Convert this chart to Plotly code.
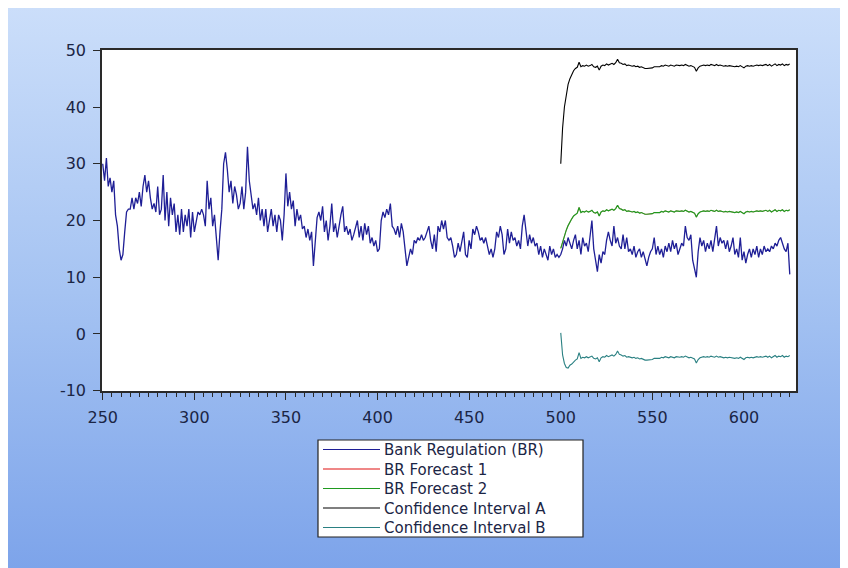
import base64
import plotly.graph_objects as go

# ---------------- data ----------------
periods = list(range(250, 626))
forecast_periods = list(range(500, 626))

bank_regulation = [
    30, 27, 31, 26, 27.5, 25, 27, 21, 19, 15,
    13, 14, 18, 21.5, 22, 22, 24, 22, 24, 23,
    25, 22.5, 26, 28, 25, 27, 24, 22, 23, 21.5,
    26, 21, 22, 28, 20, 25, 19, 24, 21, 23,
    18, 21, 17.5, 22, 18, 21, 19, 22, 17, 21.5,
    18, 20, 21.5, 21, 22, 21, 19, 27, 22, 24,
    19, 21, 16, 13, 18, 22, 30, 32, 29, 25,
    27, 23, 26, 24.5, 22, 23, 26, 22, 25, 33,
    27, 24, 22, 23, 21, 24, 20, 22, 19, 22,
    18, 20, 22, 19, 21, 18, 21, 20, 16.5, 21,
    28.3, 22.5, 25, 22, 23.5, 19, 22, 20, 21, 18.5,
    19, 17, 18.5, 16.5, 18, 12, 16, 20.5, 21.5, 20,
    22.5, 18, 20, 16.5, 19, 23, 18, 19.5, 17, 19.5,
    21, 22.5, 18, 19, 17.5, 18.5, 16.5, 17.5, 19, 20,
    17, 19, 16.5, 19.5, 17.5, 19, 16, 17, 15.5, 16.5,
    14.5, 15, 20, 21.5, 20.5, 22, 21, 23, 19, 18.5,
    17.5, 19, 17, 19.5, 18, 15, 12, 13.5, 15, 14,
    16.5, 16, 17, 16.5, 17.5, 16.5, 17, 18, 19, 16.5,
    15, 17.5, 14.5, 19, 18, 20, 18.5, 20, 17, 16.5,
    17, 15.5, 13.5, 14, 16, 14.5, 16, 18, 14, 13.5,
    16.5, 15, 18.5, 17.5, 19, 18, 16.5, 17, 16, 17,
    15.5, 14, 15, 13.5, 15, 18, 17, 19, 17.5, 14,
    15, 18.5, 16, 18, 16.5, 17, 15.5, 16.5, 15, 19,
    21, 18, 15.5, 17.5, 16, 17, 15.5, 16, 14, 15.5,
    13.5, 15, 14, 13, 15.5, 14, 15, 13.5, 14, 13.5,
    14, 15, 16.5, 15.5, 17, 16, 15, 16.5, 17.5, 15,
    16.5, 14, 17, 15.5, 16, 14.5, 17, 20, 15, 13,
    11, 14, 12.5, 14.5, 14, 16.5, 18, 16.5, 15.5, 19,
    16, 17, 15.5, 15, 17.5, 15, 17, 14.5, 15, 14,
    15.5, 13.5, 14.5, 15, 13.5, 14.5, 13, 12, 13.5, 14.5,
    15, 17, 14, 15.5, 14, 15, 13.5, 15.5, 14.5, 16,
    14.5, 16.5, 15, 16, 14, 15, 16, 15.5, 19, 17,
    16.5, 17.5, 13, 11.5, 10, 14.5, 17, 15.5, 16.5, 14.5,
    16, 15, 16.5, 14.5, 17, 19, 15.5, 17, 16, 16.5,
    15, 16.5, 14.5, 15.5, 17, 14, 15, 13.5, 17, 13,
    14.5, 12.5, 14, 15, 13.5, 15, 14, 15.5, 13.5, 15,
    14, 15.5, 14.5, 15, 14.5, 15.5, 15, 16, 15.5, 16.5,
    17, 16, 15, 14.5, 16, 10.5,
]

br_forecast_2 = [
    15.1, 16.3, 17.4, 18.3, 19.1, 19.8, 20.3, 20.8, 21.1, 21.3,
    22.3, 21.4, 21.6, 21.5, 21.7, 21.5, 21.6, 21.8, 21.4, 21.3,
    21.5, 20.8, 21.5, 21.7, 21.6, 21.9, 21.7, 21.8, 22.0, 21.8,
    22.1, 22.7, 22.1, 22.0, 21.8, 21.9, 21.6, 21.7, 21.6, 21.5,
    21.6, 21.4, 21.5, 21.3, 21.4, 21.2, 21.1, 21.1, 21.1, 21.2,
    21.2, 21.4, 21.4, 21.5, 21.4, 21.6, 21.5, 21.7, 21.6, 21.5,
    21.7, 21.6, 21.5, 21.7, 21.6, 21.6, 21.7, 21.6, 21.8, 21.6,
    21.5, 21.6, 21.4, 21.3, 20.6, 21.2, 21.5, 21.6, 21.7, 21.6,
    21.7, 21.6, 21.8, 21.7, 21.6, 21.8, 21.6, 21.7, 21.6, 21.5,
    21.6, 21.5, 21.6, 21.5, 21.5, 21.4, 21.5, 21.4, 21.6, 21.4,
    21.2, 21.5, 21.6, 21.5, 21.6, 21.5, 21.6, 21.7, 21.6, 21.7,
    21.6, 21.7, 21.8, 21.6, 21.8, 21.5, 21.7, 21.9, 21.6, 21.8,
    21.7, 21.9, 21.6, 21.8, 21.7, 21.9,
]

# static forecast lies underneath the dynamic one (not visible in the chart)
br_forecast_1 = [
    15.1, 16.3, 17.4, 18.3, 19.1, 19.8, 20.3, 20.8, 21.1, 21.3,
    22.3, 21.4, 21.6, 21.5, 21.7, 21.5, 21.6, 21.8, 21.4, 21.3,
    21.5, 20.8, 21.5, 21.7, 21.6, 21.9, 21.7, 21.8, 22.0, 21.8,
    22.1, 22.7, 22.1, 22.0, 21.8, 21.9, 21.6, 21.7, 21.6, 21.5,
    21.6, 21.4, 21.5, 21.3, 21.4, 21.2, 21.1, 21.1, 21.1, 21.2,
    21.2, 21.4, 21.4, 21.5, 21.4, 21.6, 21.5, 21.7, 21.6, 21.5,
    21.7, 21.6, 21.5, 21.7, 21.6, 21.6, 21.7, 21.6, 21.8, 21.6,
    21.5, 21.6, 21.4, 21.3, 20.6, 21.2, 21.5, 21.6, 21.7, 21.6,
    21.7, 21.6, 21.8, 21.7, 21.6, 21.8, 21.6, 21.7, 21.6, 21.5,
    21.6, 21.5, 21.6, 21.5, 21.5, 21.4, 21.5, 21.4, 21.6, 21.4,
    21.2, 21.5, 21.6, 21.5, 21.6, 21.5, 21.6, 21.7, 21.6, 21.7,
    21.6, 21.7, 21.8, 21.6, 21.8, 21.5, 21.7, 21.9, 21.6, 21.8,
    21.7, 21.9, 21.6, 21.8, 21.7, 21.9,
]

confidence_a = [
    30.0, 36.3, 40.0, 42.5, 44.0, 45.0, 45.8, 46.4, 46.8, 47.0,
    47.9, 47.1, 47.3, 47.2, 47.4, 47.2, 47.3, 47.5, 47.1, 47.0,
    47.2, 46.5, 47.2, 47.4, 47.3, 47.6, 47.4, 47.5, 47.7, 47.5,
    47.8, 48.4, 47.8, 47.7, 47.5, 47.6, 47.3, 47.4, 47.3, 47.2,
    47.3, 47.1, 47.2, 47.0, 47.1, 46.9, 46.8, 46.8, 46.8, 46.9,
    46.9, 47.1, 47.1, 47.2, 47.1, 47.3, 47.2, 47.4, 47.3, 47.2,
    47.4, 47.3, 47.2, 47.4, 47.3, 47.3, 47.4, 47.3, 47.5, 47.3,
    47.2, 47.3, 47.1, 47.0, 46.3, 46.9, 47.2, 47.3, 47.4, 47.3,
    47.4, 47.3, 47.5, 47.4, 47.3, 47.5, 47.3, 47.4, 47.3, 47.2,
    47.3, 47.2, 47.3, 47.2, 47.2, 47.1, 47.2, 47.1, 47.3, 47.1,
    46.9, 47.2, 47.3, 47.2, 47.3, 47.2, 47.3, 47.4, 47.3, 47.4,
    47.3, 47.4, 47.5, 47.3, 47.5, 47.2, 47.4, 47.6, 47.3, 47.5,
    47.4, 47.6, 47.3, 47.5, 47.4, 47.6,
]

confidence_b = [
    0.2, -3.7, -5.2, -5.9, -6.0, -5.5, -5.3, -4.9, -4.6, -4.4,
    -3.3, -4.3, -4.1, -4.2, -4.0, -4.2, -4.1, -3.9, -4.3, -4.4,
    -4.2, -4.9, -4.2, -4.0, -4.1, -3.8, -4.0, -3.9, -3.7, -3.9,
    -3.6, -3.0, -3.6, -3.7, -3.9, -3.8, -4.1, -4.0, -4.1, -4.2,
    -4.1, -4.3, -4.2, -4.4, -4.3, -4.5, -4.6, -4.6, -4.6, -4.5,
    -4.5, -4.3, -4.3, -4.2, -4.3, -4.1, -4.2, -4.0, -4.1, -4.2,
    -4.0, -4.1, -4.2, -4.0, -4.1, -4.1, -4.0, -4.1, -3.9, -4.1,
    -4.2, -4.1, -4.3, -4.4, -5.1, -4.5, -4.2, -4.1, -4.0, -4.1,
    -4.0, -4.1, -3.9, -4.0, -4.1, -3.9, -4.1, -4.0, -4.1, -4.2,
    -4.1, -4.2, -4.1, -4.2, -4.2, -4.3, -4.2, -4.3, -4.1, -4.3,
    -4.5, -4.2, -4.1, -4.2, -4.1, -4.2, -4.1, -4.0, -4.1, -4.0,
    -4.1, -4.0, -3.9, -4.1, -3.9, -4.2, -4.0, -3.8, -4.1, -3.9,
    -4.0, -3.8, -4.1, -3.9, -4.0, -3.8,
]

series_names = [
    "Bank Regulation (BR)",
    "BR Forecast 1",
    "BR Forecast 2",
    "Confidence Interval A",
    "Confidence Interval B",
]
series_colors = ["#1f1f96", "#e01010", "#1f9a1f", "#000000", "#2a8082"]
series_widths = [1.3, 0.5, 1.2, 1.1, 1.1]

x_tick_values = [250, 300, 350, 400, 450, 500, 550, 600]
x_tick_labels = ["250", "300", "350", "400", "450", "500", "550", "600"]
y_tick_values = [-10, 0, 10, 20, 30, 40, 50]
y_tick_labels = ["-10", "0", "10", "20", "30", "40", "50"]

# ---------------- layout geometry (figure pixels) ----------------
W, H = 848, 568
ML, MR, MT, MB = 94, 60, 42, 185
PW = W - ML - MR
PH = H - MT - MB


def px(p):
    return (p - ML) / PW


def py(p):
    return 1 - (p - MT) / PH


text_color = "#1b2545"
tick_font = "DejaVu Sans, Verdana, sans-serif"

fig = go.Figure()
xs = [periods, forecast_periods, forecast_periods, forecast_periods, forecast_periods]
ys = [bank_regulation, br_forecast_1, br_forecast_2, confidence_a, confidence_b]
for name, color, lw, xv, yv in zip(series_names, series_colors, series_widths, xs, ys):
    fig.add_trace(go.Scatter(
        x=xv, y=yv, mode="lines", name=name,
        line=dict(color=color, width=lw),
        showlegend=False,
    ))

# gradient background (figure-wide) as an inline SVG image
svg = (
    f'<svg xmlns="http://www.w3.org/2000/svg" width="{W}" height="{H}" '
    f'viewBox="0 0 {W} {H}" preserveAspectRatio="none">'
    '<defs><linearGradient id="g" x1="0" y1="0" x2="0" y2="1">'
    '<stop offset="0" stop-color="#cbdefa"/>'
    '<stop offset="0.5" stop-color="#a5c3f2"/>'
    '<stop offset="1" stop-color="#7ca3ea"/>'
    '</linearGradient></defs>'
    f'<rect x="0" y="0" width="{W}" height="{H}" fill="url(#g)"/>'
    '</svg>'
)
src = "data:image/svg+xml;base64," + base64.b64encode(svg.encode()).decode()

# manual legend (box, line samples, one text block)
leg_left, leg_right, leg_top, leg_bottom = 310, 575, 432, 529
line_x0, line_x1, text_x = 315, 372, 375
legend_font_size = 15
row_gap = legend_font_size * 1.3
block_center = (leg_top + leg_bottom) / 2
row_y = [block_center + (i - 2) * row_gap for i in range(5)]

shapes = [
    dict(type="rect", xref="paper", yref="paper", x0=0, x1=1, y0=0, y1=1,
         fillcolor="white", line=dict(width=0), layer="below"),
    dict(type="rect", xref="paper", yref="paper",
         x0=px(leg_left), x1=px(leg_right), y0=py(leg_bottom), y1=py(leg_top),
         fillcolor="white", line=dict(color="#222222", width=1.2), layer="above"),
]
for color, ry in zip(series_colors, row_y):
    shapes.append(dict(type="line", xref="paper", yref="paper",
                       x0=px(line_x0), x1=px(line_x1), y0=py(ry), y1=py(ry),
                       line=dict(color=color, width=1.2), layer="above"))

annotations = [dict(
    text="<br>".join(series_names), xref="paper", yref="paper",
    x=px(text_x), y=py(block_center), xanchor="left", yanchor="middle",
    align="left", showarrow=False, borderpad=0,
    font=dict(family=tick_font, size=legend_font_size, color=text_color),
)]

fig.update_layout(
    width=W, height=H,
    margin=dict(l=ML, r=MR, t=MT, b=MB, pad=0),
    paper_bgcolor="white",
    plot_bgcolor="white",
    font=dict(family=tick_font, size=16, color=text_color),
    showlegend=False,
    shapes=shapes,
    annotations=annotations,
    images=[dict(source=src, xref="paper", yref="paper",
                 x=px(0), y=py(0), sizex=W / PW, sizey=H / PH,
                 xanchor="left", yanchor="top", sizing="stretch", layer="below")],
    xaxis=dict(
        range=[249.6, 628.4], tickvals=x_tick_values, ticktext=x_tick_labels,
        showgrid=False, zeroline=False,
        showline=True, linecolor="#2a2a2a", linewidth=1.5, mirror=True,
        ticks="outside", ticklen=7, tickwidth=1.3, tickcolor="#2a2a2a",
        ticklabelstandoff=4,
        minor=dict(ticks="outside", dtick=5, ticklen=4, tickwidth=1, tickcolor="#2a2a2a"),
        tickfont=dict(family=tick_font, size=16, color=text_color),
    ),
    yaxis=dict(
        range=[-10.05, 50.05], tickvals=y_tick_values, ticktext=y_tick_labels,
        showgrid=False, zeroline=False,
        showline=True, linecolor="#2a2a2a", linewidth=1.5, mirror=True,
        ticks="outside", ticklen=7, tickwidth=1.3, tickcolor="#2a2a2a",
        ticklabelstandoff=4,
        tickfont=dict(family=tick_font, size=16, color=text_color),
    ),
)

fig.write_html("out.html")
